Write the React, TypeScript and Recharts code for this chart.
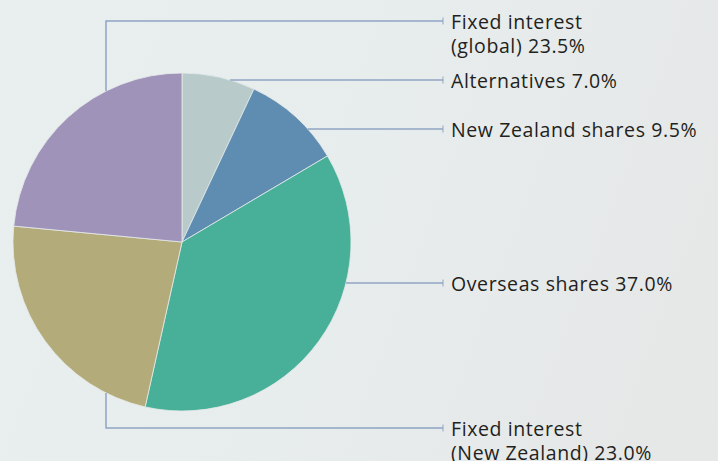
import { PieChart, Pie, Cell } from "recharts";

const categories = [
  "Alternatives",
  "New Zealand shares",
  "Overseas shares",
  "Fixed interest (New Zealand)",
  "Fixed interest (global)",
];
const shares = [7.0, 9.5, 37.0, 23.0, 23.5];
const labelLines = [
  ["Alternatives 7.0%"],
  ["New Zealand shares 9.5%"],
  ["Overseas shares 37.0%"],
  ["Fixed interest", "(New Zealand) 23.0%"],
  ["Fixed interest", "(global) 23.5%"],
];

const data = categories.map((name, i) => ({ name, value: shares[i] }));

const FILLS = ["#b8cbca", "#5f8db1", "#48af98", "#b3ab7a", "#a093ba"];
const LINE = "#8fa5c3";
const TEXT = "#231f20";
const LABEL_X = 443;

// how each leader runs: "h" = straight across at y, "v" = down/up a column at x, then across at y
const LEADERS: { kind: "h" | "v"; y: number; x?: number }[] = [
  { kind: "h", y: 80 },
  { kind: "h", y: 129 },
  { kind: "h", y: 283 },
  { kind: "v", x: 106, y: 428 },
  { kind: "v", x: 106, y: 21 },
];

function renderLabel(props: any) {
  const { index, cx, cy, outerRadius } = props;
  const r = outerRadius;
  const lead = LEADERS[index];
  let d = "";
  if (lead.kind === "h") {
    const dy = lead.y - cy;
    const x0 = cx + Math.sqrt(Math.max(r * r - dy * dy, 0));
    d = `M${x0},${lead.y} H${LABEL_X}`;
  } else {
    const dx = (lead.x as number) - cx;
    const off = Math.sqrt(Math.max(r * r - dx * dx, 0));
    const y0 = lead.y < cy ? cy - off : cy + off;
    d = `M${lead.x},${y0} V${lead.y} H${LABEL_X}`;
  }
  const lines = labelLines[index];
  return (
    <g key={`lbl-${index}`}>
      <path d={d} stroke={LINE} strokeWidth={1.5} fill="none" />
      <line x1={LABEL_X} x2={LABEL_X} y1={lead.y - 3.5} y2={lead.y + 3.5} stroke={LINE} strokeWidth={1} />
      <text
        x={LABEL_X + 8}
        y={lead.y}
        fill={TEXT}
        fontSize={19.5}
        letterSpacing={0.6}
        fontFamily="'Open Sans', sans-serif"
        dominantBaseline="central"
      >
        {lines.map((t, k) => (
          <tspan key={k} x={LABEL_X + 8} dy={k === 0 ? 0 : 24}>
            {t}
          </tspan>
        ))}
      </text>
    </g>
  );
}

export default function App() {
  return (
    <div
      style={{
        position: "absolute",
        left: 0,
        top: 0,
        width: 718,
        height: 461,
        background: "linear-gradient(110deg, #e9efef 0%, #e7ecec 50%, #e6e7e7 100%)",
        overflow: "hidden",
      }}
    >
      <PieChart width={718} height={461} margin={{ top: 0, right: 0, bottom: 0, left: 0 }}>
        <Pie
          data={data}
          dataKey="value"
          nameKey="name"
          cx={182}
          cy={242}
          outerRadius={169}
          startAngle={90}
          endAngle={-270}
          stroke="#e4eaea"
          strokeWidth={0.8}
          label={renderLabel}
          labelLine={false}
          isAnimationActive={false}
        >
          {data.map((d, i) => (
            <Cell key={d.name} fill={FILLS[i]} />
          ))}
        </Pie>
      </PieChart>
    </div>
  );
}
